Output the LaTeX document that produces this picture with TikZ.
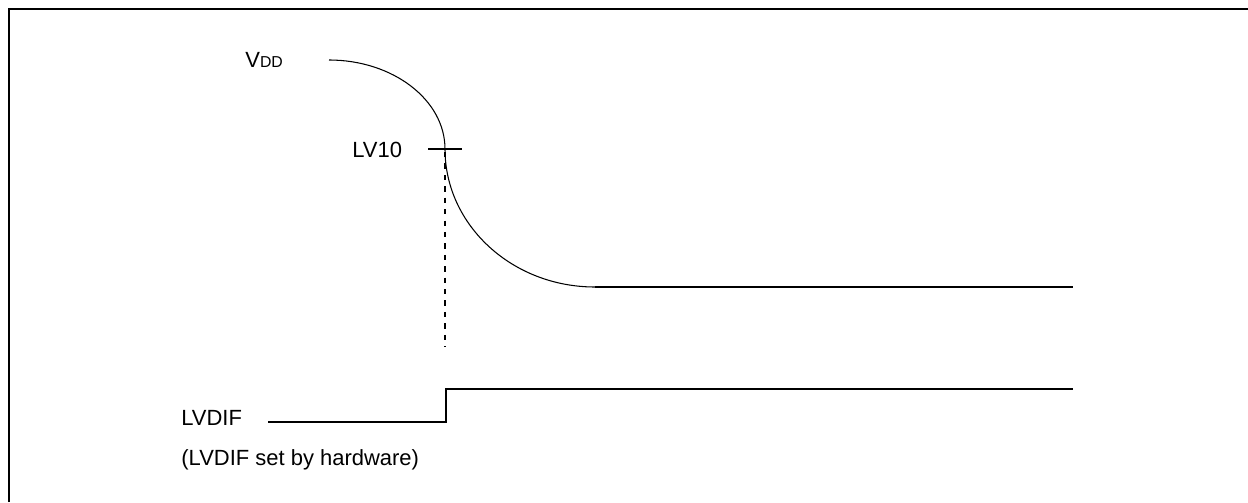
\documentclass[tikz,border=0pt]{standalone}
\usepackage{fontspec}
\setmainfont{Liberation Sans}
\usepackage{tikz}
\usetikzlibrary{calc, positioning}

\begin{document}
\begin{tikzpicture}[font=\fontsize{12.5}{15}\selectfont]
		\tikzstyle{txt} = [inner sep=0pt, anchor=base west]
		\tikzstyle{frame} = [line width=1.3pt]
		\tikzstyle{curve} = [line width=0.6pt]
		\tikzstyle{wave} = [line width=1.2pt]
		\tikzstyle{guide} = [line width=1.1pt, dash pattern=on 3pt off 3.5pt]
		
		\useasboundingbox (0, 0) rectangle (24.96, -10.04);
		\draw [frame] (0.18, -10.04) |- (24.96, -0.18);
		
		\node[txt]	at (4.9, -1.34)		(t0)	{V{\fontsize{9}{11}\selectfont DD}};
		\node[txt]	at (7.04, -3.14)	(t1)	{LV10};
		\node[txt]	at (3.62, -8.5)		(t2)	{LVDIF};
		\node[txt]	at (3.62, -9.3)		(t3)	{(LVDIF set by hardware)};
		
		\coordinate (p0) at (6.58, -1.2);
		\coordinate (p1) at (8.9, -2.98);
		\coordinate (p2) at (11.9, -5.74);
		\coordinate (p3) at (21.46, -5.74);
		\coordinate (k0) at (8.56, -2.98);
		\coordinate (k1) at (9.24, -2.98);
		\coordinate (d0) at (8.9, -3.04);
		\coordinate (d1) at (8.9, -6.94);
		\coordinate (s0) at (5.36, -8.44);
		\coordinate (s1) at (8.92, -8.44);
		\coordinate (s2) at (8.92, -7.78);
		\coordinate (s3) at (21.46, -7.78);
		
		\draw [curve] (p0) .. controls (7.86, -1.2) and (8.9, -2.0) .. (p1)
			.. controls (8.9, -4.5) and (10.24, -5.74) .. (p2);
		\draw [wave] (p2) -- (p3);
		\draw [wave] (k0) -- (k1);
		\draw [guide] (d0) -- (d1);
		\draw [wave] (s0) -- (s1) -- (s2) -- (s3);
		
	\end{tikzpicture}
\end{document}
